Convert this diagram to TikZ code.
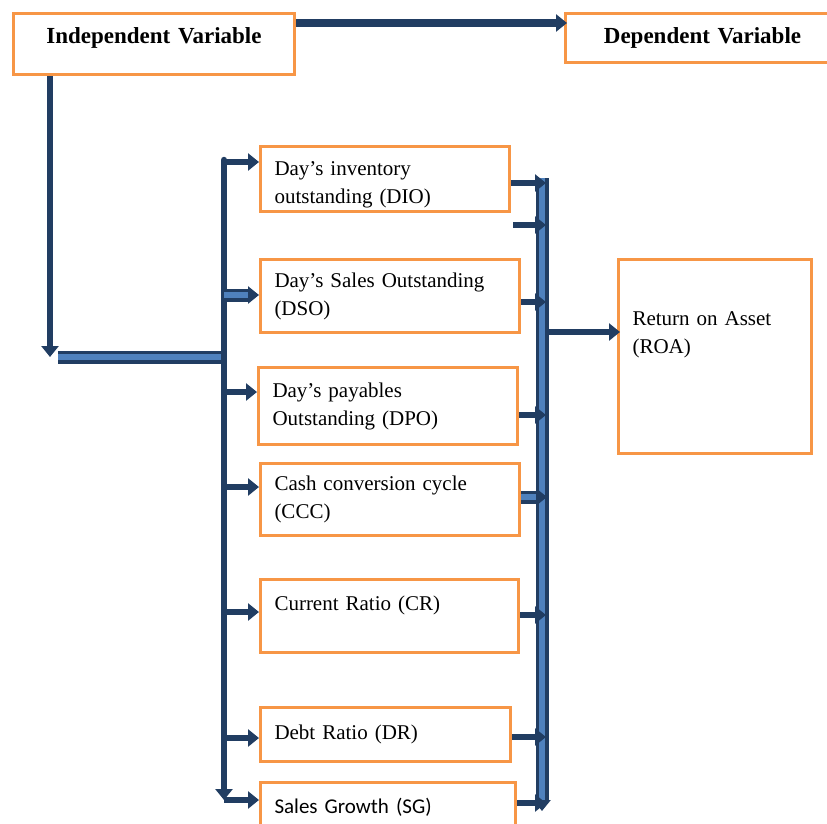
\documentclass[tikz,border=0pt]{standalone}
\usepackage{fontspec}
\setmainfont{Liberation Serif}
\newfontfamily\calfont{Carlito}
\usetikzlibrary{positioning, arrows.meta}

\definecolor{boxorange}{HTML}{F79646}
\definecolor{linkblue}{HTML}{213D62}
\definecolor{barblue}{HTML}{4F81BD}

\tikzset{
    varbox/.style={draw=boxorange, line width=3pt, rectangle, align=left, inner xsep=14pt, font=\fontsize{21}{28}\selectfont},
    headbox/.style={varbox, align=center, font=\fontsize{23}{28}\selectfont\bfseries},
    link/.style={->, draw=linkblue, line width=6.5pt},
    wide/.style={->, draw=linkblue, line width=3.5pt, double=barblue, double distance=6pt},
    >={Triangle[length=11pt, width=17pt]}
}

\begin{document}
\begin{tikzpicture}[x=1pt, y=-1pt]
    \clip (0, 0) rectangle (827, 823);

    \node (indep) [headbox, anchor=north west, text width=253pt, minimum height=61pt, text depth=17pt] at (12, 12) {Independent Variable};
    \node (dep) [headbox, anchor=north west, text width=246pt, minimum height=49pt] at (564, 12) {Dependent Variable};

    \node (dio) [varbox, anchor=north west, text width=221pt, minimum height=65pt, text depth=20pt] at (259, 145) {Day’s inventory\\outstanding (DIO)};
    \node (dso) [varbox, below=45pt of dio.south west, anchor=north west, text width=231pt, minimum height=73pt] {Day’s Sales Outstanding\\(DSO)};
    \node (dpo) [varbox, below=32pt of dso.south west, anchor=north west, xshift=-2pt, text width=231pt, minimum height=77pt] {Day’s payables\\Outstanding (DPO)};
    \node (ccc) [varbox, below=16pt of dpo.south west, anchor=north west, xshift=2pt, text width=231pt, minimum height=72pt] {Cash conversion cycle\\(CCC)};
    \node (cr) [varbox, below=41pt of ccc.south west, anchor=north west, text width=230pt, minimum height=73pt, text depth=25pt] {Current Ratio (CR)};
    \node (dr) [varbox, below=52pt of cr.south west, anchor=north west, text width=222pt, minimum height=54pt] {Debt Ratio (DR)};
    \node (sg) [varbox, below=18pt of dr.south west, anchor=north west, text width=227pt, minimum height=50pt, font=\fontsize{21}{28}\calfont] {Sales Growth (SG)};

    \node (roa) [varbox, anchor=north west, text width=165pt, minimum height=194pt, text depth=75pt] at (617, 258) {Return on Asset\\(ROA)};

    \coordinate (drop) at (50, 357);
    \coordinate (barstart) at (58, 357);
    \coordinate (ltop) at (224, 160);
    \coordinate (lbot) at (224, 800);
    \coordinate (rtop) at (542, 178);
    \coordinate (rbot) at (542, 811);
    \coordinate (loose) at (513, 225);

    % top and left feed
    \draw [link, line width=7.5pt] (indep.east |- 0, 23) -- ([xshift=3pt]dep.west |- 0, 23);
    \draw [link] (indep.south -| drop) -- (drop);
    \draw [wide, -] (barstart) -- (ltop |- barstart);
    \draw [link, line cap=round] (ltop) -- (lbot);

    % left branches
    \foreach \n/\y in {dio/162, dpo/392, ccc/487, cr/612, dr/738, sg/800} {
        \path (0, \y) coordinate (h);
        \draw [link] (ltop |- h) -- (\n.west |- h);
    }
    \path (0, 295) coordinate (h);
    \draw [wide] (ltop |- h) -- (dso.west |- h);

    % right spine and branches
    \draw [wide] (rtop) -- (rbot);
    \foreach \n/\y in {dio/183, dso/302, dpo/415, cr/615, dr/737, sg/803} {
        \path (0, \y) coordinate (h);
        \draw [link] (\n.east |- h) -- ([xshift=4pt]rtop |- h);
    }
    \path (0, 497) coordinate (h);
    \draw [wide] (ccc.east |- h) -- ([xshift=5pt]rtop |- h);
    \draw [link] (loose) -- ([xshift=4pt]rtop |- loose);

    \path (0, 332) coordinate (h);
    \draw [link] ([xshift=5pt]rtop |- h) -- ([xshift=3pt]roa.west |- h);
\end{tikzpicture}
\end{document}
